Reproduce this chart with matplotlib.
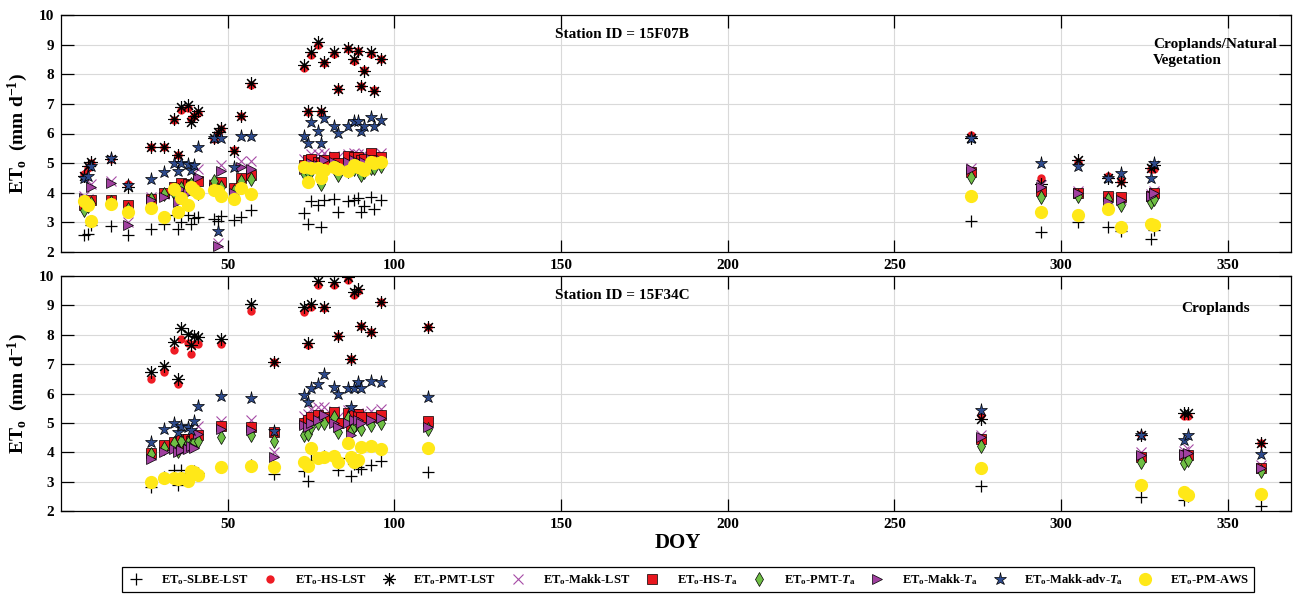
import matplotlib
matplotlib.use('Agg')
import matplotlib.pyplot as plt

plt.rcParams['font.family'] = ['Liberation Serif', 'DejaVu Serif']
plt.rcParams['font.weight'] = 'bold'
plt.rcParams['mathtext.fontset'] = 'custom'
plt.rcParams['mathtext.rm'] = 'Liberation Serif:bold'
plt.rcParams['mathtext.bf'] = 'Liberation Serif:bold'
plt.rcParams['mathtext.it'] = 'Liberation Serif:italic:bold'

# station 15F07B (top panel)
doy_07b = [7, 8, 9, 15, 20, 27, 31, 34, 35, 36, 38, 39, 40, 41, 46, 47, 48, 52, 54, 57,
           73, 74, 75, 77, 78, 79, 82, 83, 86, 88, 89, 90, 91, 93, 94, 96,
           273, 294, 305, 314, 318, 327, 328]
slbe_lst_07b = [2.57, 2.61, 2.91, 2.89, 2.57, 2.78, 2.93, 3.25, 2.77, 3.0, 3.25, 2.95, 3.16, 3.19, 3.1, 3.05, 3.23, 3.08, 3.17, 3.42,
                3.33, 2.93, 3.72, 3.57, 2.86, 3.76, 3.79, 3.36, 3.73, 3.76, 3.81, 3.36, 3.56, 3.87, 3.45, 3.76,
                3.05, 2.68, 3.0, 2.85, 2.7, 2.45, 2.75]
hs_lst_07b = [4.62, 4.83, 5.0, 5.13, 4.3, 5.56, 5.54, 6.45, 5.28, 6.8, 6.85, 6.5, 6.6, 6.7, 5.8, 6.0, 6.15, 5.45, 6.6, 7.64,
              8.2, 6.74, 8.65, 9.0, 6.74, 8.37, 8.7, 7.5, 8.85, 8.45, 8.77, 7.6, 8.13, 8.69, 7.47, 8.52,
              5.95, 4.5, 5.05, 4.55, 4.4, 4.8, 4.8]
pmt_lst_07b = [4.55, 4.9, 5.05, 5.13, 4.2, 5.56, 5.54, 6.5, 5.28, 6.9, 6.95, 6.4, 6.6, 6.75, 5.85, 6.05, 6.2, 5.4, 6.6, 7.7,
               8.3, 6.75, 8.75, 9.1, 6.75, 8.4, 8.75, 7.5, 8.9, 8.5, 8.8, 7.6, 8.1, 8.75, 7.45, 8.5,
               5.85, 4.3, 5.1, 4.5, 4.35, 4.85, 4.95]
makk_lst_07b = [3.9, 3.8, 4.3, 4.4, 3.0, 3.85, 3.95, 4.2, 3.8, 4.2, 4.1, 4.3, 4.2, 4.8, 4.3, 2.3, 4.94, 4.1, 5.08, 5.08,
                5.15, 5.1, 5.3, 5.3, 5.2, 5.35, 5.25, 5.2, 5.3, 5.35, 5.3, 5.25, 5.3, 5.3, 5.25, 5.35,
                4.85, 4.25, 4.05, 3.75, 3.8, 3.95, 4.05]
hs_ta_07b = [3.6, 3.65, 3.75, 3.76, 3.59, 3.8, 3.98, 4.2, 4.0, 4.34, 4.3, 4.25, 4.2, 4.4, 4.26, 4.2, 4.37, 4.15, 4.49, 4.6,
             4.95, 5.1, 5.15, 5.05, 5.0, 5.1, 5.22, 5.0, 5.25, 5.2, 5.22, 5.1, 5.15, 5.33, 5.1, 5.2,
             4.7, 4.05, 4.0, 3.9, 3.85, 3.9, 4.0]
pmt_ta_07b = [3.42, 3.55, 3.65, 3.7, 3.45, 3.8, 3.95, 4.0, 4.1, 4.15, 4.2, 4.3, 4.1, 4.0, 4.4, 4.1, 4.2, 4.05, 4.4, 4.45,
              4.65, 4.7, 4.75, 4.8, 4.3, 4.75, 4.85, 4.6, 4.75, 4.8, 4.85, 4.6, 4.7, 4.85, 4.83, 4.9,
              4.52, 3.85, 3.9, 3.8, 3.6, 3.7, 3.8]
makk_ta_07b = [3.82, 3.7, 4.19, 4.32, 2.91, 3.76, 3.87, 4.1, 3.7, 4.12, 4.0, 4.2, 4.1, 4.54, 4.15, 2.2, 4.75, 3.98, 4.88, 4.8,
               4.8, 4.9, 5.0, 4.95, 4.9, 5.1, 5.05, 4.85, 5.05, 5.1, 5.0, 5.0, 5.05, 5.15, 5.05, 5.1,
               4.79, 4.2, 4.0, 3.7, 3.75, 3.9, 4.0]
makk_adv_ta_07b = [4.49, 4.55, 4.9, 5.16, 4.25, 4.46, 4.71, 5.0, 4.74, 5.0, 4.97, 4.77, 4.92, 5.54, 5.84, 2.71, 5.86, 4.88, 5.93, 5.9,
                   5.9, 5.67, 6.38, 6.09, 5.69, 6.52, 6.27, 6.01, 6.27, 6.43, 6.43, 6.09, 6.26, 6.55, 6.27, 6.46,
                   5.85, 5.0, 4.9, 4.5, 4.65, 4.5, 5.0]
pm_aws_07b = [3.73, 3.59, 3.06, 3.62, 3.34, 3.5, 3.19, 4.12, 3.34, 3.81, 3.59, 4.19, 4.09, 3.98, 4.09, 4.05, 3.89, 3.78, 4.15, 3.96,
              4.88, 4.37, 4.83, 4.83, 4.49, 4.77, 4.88, 4.8, 4.72, 4.95, 4.88, 4.83, 4.78, 5.05, 5.0, 5.05,
              3.9, 3.35, 3.25, 3.45, 2.85, 2.95, 2.9]

# station 15F34C (bottom panel)
doy_34c = [27, 31, 34, 35, 36, 38, 39, 40, 41, 48, 57, 64,
           73, 74, 75, 77, 79, 82, 83, 86, 87, 88, 89, 90, 93, 96, 110,
           276, 324, 337, 338, 360]
slbe_lst_34c = [2.83, 3.17, 3.39, 2.88, 3.38, 3.3, 3.35, 3.37, 3.3, 3.5, 3.56, 3.25,
                3.37, 3.03, 3.75, 3.8, 3.87, 3.85, 3.39, 3.8, 3.2, 3.6, 3.5, 3.43, 3.56, 3.71, 3.34,
                2.85, 2.47, 2.36, 2.5, 2.17]
hs_lst_34c = [6.51, 6.74, 7.48, 6.34, 7.87, 7.72, 7.34, 7.7, 7.68, 7.68, 8.8, 7.06,
              8.78, 7.65, 8.95, 9.69, 8.92, 9.69, 7.96, 9.86, 7.16, 9.35, 9.5, 8.3, 8.1, 9.1, 8.25,
              5.27, 4.59, 5.22, 5.22, 4.32]
pmt_lst_34c = [6.74, 6.93, 7.76, 6.48, 8.24, 8.04, 7.65, 7.95, 7.93, 7.85, 9.06, 7.06,
               8.95, 7.72, 9.06, 9.83, 8.95, 9.8, 7.96, 9.97, 7.16, 9.45, 9.57, 8.3, 8.1, 9.1, 8.25,
               5.12, 4.59, 5.32, 5.32, 4.32]
makk_lst_34c = [3.9, 4.2, 4.3, 4.1, 4.3, 4.3, 4.3, 4.35, 4.9, 5.07, 5.1, 4.0,
                5.24, 5.3, 5.47, 5.55, 5.55, 5.4, 5.2, 5.45, 4.9, 5.3, 5.35, 5.3, 5.4, 5.47, 5.0,
                4.6, 4.0, 4.05, 4.1, 3.55]
hs_ta_34c = [3.98, 4.24, 4.36, 4.2, 4.45, 4.45, 4.4, 4.5, 4.6, 4.89, 4.86, 4.7,
             5.0, 5.1, 5.21, 5.26, 5.2, 5.38, 5.0, 5.35, 4.9, 5.3, 5.3, 5.2, 5.2, 5.26, 5.07,
             4.45, 3.85, 3.9, 3.9, 3.45]
pmt_ta_34c = [3.93, 4.16, 4.3, 4.05, 4.4, 4.3, 4.25, 4.35, 4.39, 4.53, 4.6, 4.39,
              4.6, 4.62, 4.85, 5.0, 5.0, 5.2, 4.7, 5.15, 4.72, 4.9, 4.95, 4.78, 4.93, 5.0, 4.8,
              4.21, 3.66, 3.65, 3.75, 3.37]
makk_ta_34c = [3.77, 4.02, 4.1, 4.0, 4.07, 4.1, 4.2, 4.15, 4.61, 4.78, 4.76, 3.85,
               4.93, 4.85, 5.0, 5.1, 5.26, 5.0, 4.87, 5.0, 4.59, 5.1, 5.1, 5.0, 5.1, 5.16, 4.85,
               4.53, 3.9, 3.95, 3.98, 3.45]
makk_adv_ta_34c = [4.36, 4.79, 4.98, 4.7, 4.9, 4.87, 4.75, 5.06, 5.57, 5.92, 5.83, 4.72,
                   5.95, 5.72, 6.19, 6.34, 6.65, 6.23, 5.98, 6.19, 5.55, 6.19, 6.4, 6.19, 6.43, 6.38, 5.89,
                   5.44, 4.59, 4.42, 4.59, 3.94]
pm_aws_34c = [3.0, 3.11, 3.13, 3.09, 3.11, 3.03, 3.36, 3.32, 3.22, 3.51, 3.52, 3.51,
              3.68, 3.54, 4.13, 3.79, 3.85, 3.87, 3.68, 4.3, 3.85, 3.68, 3.75, 4.17, 4.22, 4.1, 4.13,
              3.47, 2.88, 2.64, 2.54, 2.58]

labels = [r'ET$_\mathrm{o}$-SLBE-LST', r'ET$_\mathrm{o}$-HS-LST', r'ET$_\mathrm{o}$-PMT-LST',
          r'ET$_\mathrm{o}$-Makk-LST', r'ET$_\mathrm{o}$-HS-$\mathit{T}_\mathrm{a}$',
          r'ET$_\mathrm{o}$-PMT-$\mathit{T}_\mathrm{a}$', r'ET$_\mathrm{o}$-Makk-$\mathit{T}_\mathrm{a}$',
          r'ET$_\mathrm{o}$-Makk-adv-$\mathit{T}_\mathrm{a}$', r'ET$_\mathrm{o}$-PM-AWS']

styles = [
    dict(marker='+', ms=9, color='black', mew=0.9),
    dict(marker='o', ms=6, color='#ee1c24', mec='#ee1c24', mew=0),
    dict(marker=(8, 2, 0), ms=9, color='black', mew=0.8),
    dict(marker='x', ms=6.5, color='#a64ca6', mew=0.8),
    dict(marker='s', ms=6.5, mfc='#e8161e', mec='black', mew=0.5, color='black'),
    dict(marker='d', ms=7.5, mfc='#6fbf44', mec='black', mew=0.5, color='black'),
    dict(marker='>', ms=7.5, mfc='#a0409f', mec='black', mew=0.5, color='black'),
    dict(marker='*', ms=9.5, mfc='#2d4a8c', mec='black', mew=0.5, color='black'),
    dict(marker='o', ms=9.5, color='#ffe818', mec='#ffe818', mew=0),
]


def draw_panel(ax, doy, series, station, landcover, lc_pos):
    handles = []
    for values, st in zip(series, styles):
        h, = ax.plot(doy, values, linestyle='none', **st)
        handles.append(h)
    ax.set_xlim(0, 369)
    ax.set_ylim(2, 10)
    ax.set_xticks(range(50, 351, 50))
    ax.set_yticks(range(2, 11))
    ax.grid(True, color='#d9d9d9', linewidth=0.8)
    ax.set_axisbelow(True)
    ax.tick_params(direction='in', length=9, width=0.9, top=True, right=True,
                   labelsize=11, pad=5)
    for lab in ax.get_xticklabels() + ax.get_yticklabels():
        lab.set_fontweight('bold')
    for sp in ax.spines.values():
        sp.set_linewidth(0.9)
    ax.set_ylabel(r'ET$_\mathrm{o}$  (mm d$^{\mathrm{-1}}$)', fontsize=14, fontweight='bold', labelpad=6)
    ax.text(0.456, 0.918, station, transform=ax.transAxes, ha='center', va='center',
            fontsize=11, fontweight='bold')
    ax.text(lc_pos[0], lc_pos[1], landcover, transform=ax.transAxes, ha='left', va='top',
            fontsize=11, fontweight='bold', linespacing=1.35)
    return handles


fig = plt.figure(figsize=(12.93, 5.94), dpi=100)
ax1 = fig.add_axes([61 / 1293, 1 - 252 / 594, 1230 / 1293, 237 / 594])
ax2 = fig.add_axes([61 / 1293, 1 - 511 / 594, 1230 / 1293, 235 / 594])

h = draw_panel(ax1, doy_07b,
               [slbe_lst_07b, hs_lst_07b, pmt_lst_07b, makk_lst_07b, hs_ta_07b,
                pmt_ta_07b, makk_ta_07b, makk_adv_ta_07b, pm_aws_07b],
               'Station ID = 15F07B', 'Croplands/Natural\nVegetation', (0.888, 0.905))
draw_panel(ax2, doy_34c,
           [slbe_lst_34c, hs_lst_34c, pmt_lst_34c, makk_lst_34c, hs_ta_34c,
            pmt_ta_34c, makk_ta_34c, makk_adv_ta_34c, pm_aws_34c],
           'Station ID = 15F34C', 'Croplands', (0.911, 0.89))

fig.text(678 / 1293, 1 - 543 / 594, 'DOY', ha='center', va='center', fontsize=15, fontweight='bold')

leg = fig.legend(h, labels, loc='lower left', ncol=9, mode='expand',
                 bbox_to_anchor=(122 / 1293, 1 - 592 / 594, 1132 / 1293, 25 / 594),
                 borderaxespad=0, fancybox=False, edgecolor='black', framealpha=1,
                 prop={'family': 'Liberation Serif', 'weight': 'bold', 'size': 9},
                 handletextpad=1.2, handlelength=1.5, columnspacing=1.0)
leg.get_frame().set_linewidth(0.9)

fig.savefig('out.png', dpi=100)
